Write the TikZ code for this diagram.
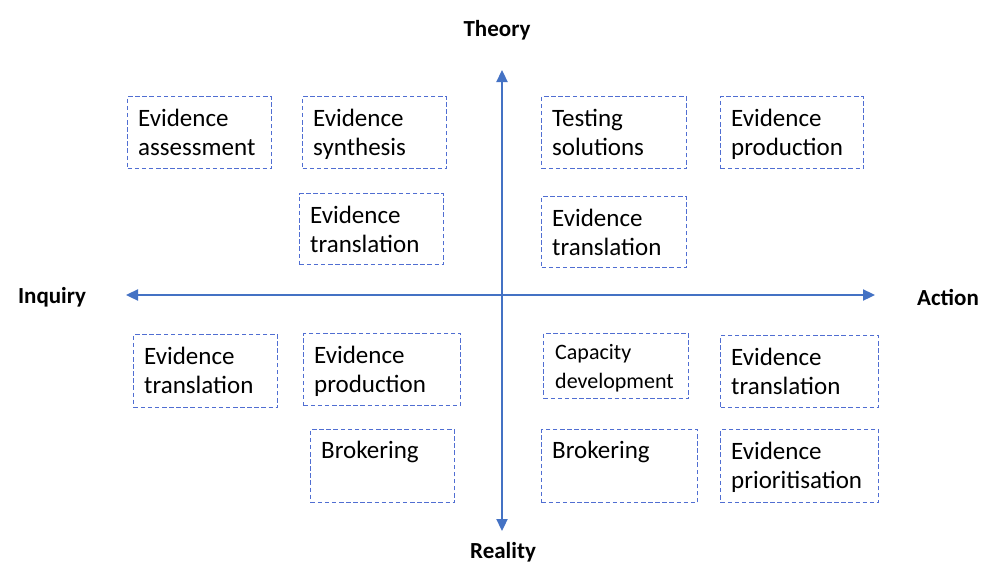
\documentclass[tikz,border=0pt]{standalone}
\usepackage{fontspec}
\setmainfont{Carlito}
\usetikzlibrary{arrows.meta,calc}
\definecolor{axisblue}{RGB}{68,114,196}
\definecolor{boxblue}{RGB}{80,110,210}
\tikzset{
  qbox/.style={draw=boxblue, line width=1.3pt, dash pattern=on 4.5pt off 2.6pt, inner sep=0pt, anchor=north west},
  qtext/.style={anchor=base west, inner sep=0pt, align=left, font=\fontsize{25}{29}\selectfont},
  qsmall/.style={anchor=base west, inner sep=0pt, align=left, font=\fontsize{22}{29}\selectfont},
  axis/.style={draw=axisblue, line width=2.3pt, -{Triangle[width=11pt,length=12pt]}},
  axlbl/.style={font=\fontsize{23}{27}\selectfont\bfseries, inner sep=0pt}
}
\begin{document}
\begin{tikzpicture}[x=1pt,y=-1pt]
\useasboundingbox (0,0) rectangle (986,565);
% axes
\coordinate (c) at (502,295);
\coordinate (top) at (502,70);
\coordinate (bot) at (502,531);
\coordinate (lft) at (126,295);
\coordinate (rgt) at (875,295);
\draw[axis] (c) -- (top);
\draw[axis] (c) -- (bot);
\draw[axis] (c) -- (lft);
\draw[axis] (c) -- (rgt);
\node[axlbl] (theory) at (497,30) {Theory};
\node[axlbl] (reality) at (503,552) {Reality};
\node[axlbl] (inquiry) at (52,297) {Inquiry};
\node[axlbl] (action) at (948,297) {Action};
% boxes (two-line texts: base = last line baseline)
\node[qbox, minimum width=144pt, minimum height=72pt] (b1) at (127,96) {};
\node[qtext] (b1t) at ($(b1.north west)+(11,59)$) {Evidence\\assessment};
\node[qbox, minimum width=144pt, minimum height=72pt] (b2) at (302,96) {};
\node[qtext] (b2t) at ($(b2.north west)+(11,59)$) {Evidence\\synthesis};
\node[qbox, minimum width=144pt, minimum height=71pt] (b3) at (299,193) {};
\node[qtext] (b3t) at ($(b3.north west)+(11,59)$) {Evidence\\translation};
\node[qbox, minimum width=145pt, minimum height=72pt] (b4) at (541,96) {};
\node[qtext] (b4t) at ($(b4.north west)+(11,59)$) {Testing\\solutions};
\node[qbox, minimum width=143pt, minimum height=72pt] (b5) at (720,96) {};
\node[qtext] (b5t) at ($(b5.north west)+(11,59)$) {Evidence\\production};
\node[qbox, minimum width=145pt, minimum height=71pt] (b6) at (541,196) {};
\node[qtext] (b6t) at ($(b6.north west)+(11,59)$) {Evidence\\translation};
\node[qbox, minimum width=144pt, minimum height=73pt] (b7) at (133,334) {};
\node[qtext] (b7t) at ($(b7.north west)+(11,59)$) {Evidence\\translation};
\node[qbox, minimum width=157pt, minimum height=72pt] (b8) at (303,333) {};
\node[qtext] (b8t) at ($(b8.north west)+(11,59)$) {Evidence\\production};
\node[qbox, minimum width=144pt, minimum height=73pt] (b9) at (310,429) {};
\node[qtext] (b9t) at ($(b9.north west)+(11,29)$) {Brokering};
\node[qbox, minimum width=145pt, minimum height=65pt] (b10) at (543,333) {};
\node[qsmall] (b10t) at ($(b10.north west)+(12,55)$) {Capacity\\development};
\node[qbox, minimum width=158pt, minimum height=72pt] (b11) at (720,335) {};
\node[qtext] (b11t) at ($(b11.north west)+(11,59)$) {Evidence\\translation};
\node[qbox, minimum width=156pt, minimum height=73pt] (b12) at (541,429) {};
\node[qtext] (b12t) at ($(b12.north west)+(11,29)$) {Brokering};
\node[qbox, minimum width=158pt, minimum height=73pt] (b13) at (720,429) {};
\node[qtext] (b13t) at ($(b13.north west)+(11,59)$) {Evidence\\prioritisation};
\end{tikzpicture}
\end{document}
